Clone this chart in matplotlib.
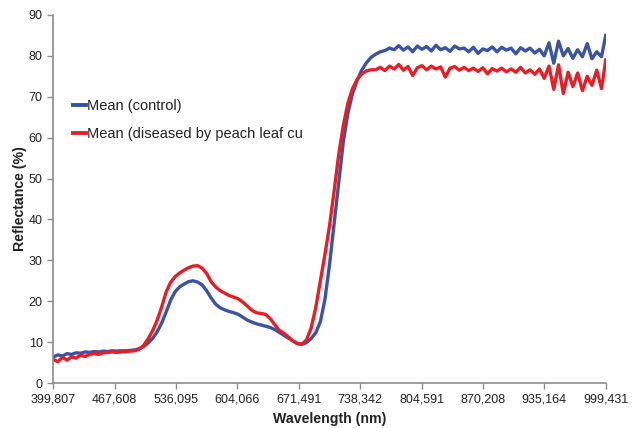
import numpy as np
import matplotlib
matplotlib.use("Agg")
import matplotlib.pyplot as plt

plt.rcParams['font.family'] = ['Liberation Sans', 'DejaVu Sans']

# x tick labels (category axis in original, evenly spaced)
tick_wavelengths = [399.807, 467.608, 536.095, 604.066, 671.491,
                    738.342, 804.591, 870.208, 935.164, 999.431]
tick_labels = ["399,807", "467,608", "536,095", "604,066", "671,491",
               "738,342", "804,591", "870,208", "935,164", "999,431"]

wavelength = list(range(400, 1000, 5)) + [999.4]

control = [
    6.4, 6.9, 6.6, 7.2, 7.0, 7.4, 7.3, 7.6, 7.5, 7.7, 7.6, 7.8, 7.7, 7.9, 7.8, 7.9, 7.9, 8.0, 8.1, 8.4,
    8.9, 9.8, 10.9, 12.5, 14.6, 17.3, 20.2, 22.3, 23.5, 24.2, 24.8, 25.0, 24.7, 24.0, 22.6, 20.8, 19.3, 18.4, 17.9, 17.5,
    17.2, 16.8, 16.1, 15.4, 14.9, 14.5, 14.2, 13.9, 13.6, 13.1, 12.4, 11.7, 11.0, 10.3, 9.7, 9.5, 9.9, 10.9, 12.3, 15.0,
    20.5, 29.0, 39.0, 49.0, 59.0, 66.0, 70.8, 74.0, 76.5, 78.3, 79.6, 80.4, 81.0, 81.3, 81.9, 81.5, 82.5, 81.4, 82.2, 81.0,
    82.4, 81.6, 82.3, 81.2, 82.6, 81.5, 82.0, 81.1, 82.4, 81.7, 81.9, 81.0, 82.1, 80.6, 81.7, 81.3, 82.2, 81.0, 82.1, 81.4,
    81.9, 80.5, 82.0, 81.2, 81.9, 80.7, 81.6, 80.0, 83.2, 78.2, 83.6, 80.0, 81.8, 79.4, 81.5, 79.8, 83.0, 79.3, 81.0, 79.8,
    85.0]

diseased = [
    5.8, 5.2, 6.3, 5.6, 6.4, 6.1, 6.8, 6.5, 7.0, 7.2, 7.0, 7.4, 7.5, 7.6, 7.5, 7.6, 7.7, 7.8, 7.9, 8.3,
    9.2, 10.8, 12.8, 15.3, 18.5, 22.2, 24.6, 26.0, 26.9, 27.6, 28.2, 28.6, 28.7, 28.1, 26.8, 24.8, 23.5, 22.6, 22.0, 21.4,
    21.0, 20.6, 19.8, 18.8, 17.8, 17.2, 17.0, 16.8, 15.8, 14.3, 12.9, 12.2, 11.3, 10.3, 9.6, 9.5, 10.6, 13.5, 18.5, 25.0,
    31.5, 38.5, 47.0, 56.0, 63.0, 68.5, 72.0, 74.2, 75.6, 76.3, 76.6, 76.6, 77.2, 76.4, 77.5, 76.8, 77.9, 76.5, 77.4, 75.2,
    77.1, 77.6, 76.6, 77.5, 76.8, 77.3, 74.8, 77.0, 77.4, 76.5, 77.2, 76.4, 77.0, 76.2, 77.1, 75.6, 76.9, 76.3, 77.0, 76.1,
    76.8, 76.0, 77.2, 75.8, 76.6, 75.5, 76.8, 74.5, 77.5, 71.8, 77.8, 70.8, 76.0, 72.5, 75.8, 71.5, 75.0, 72.8, 76.5, 72.0,
    79.0]

labels = ["Mean (control)", "Mean (diseased by peach leaf cu"]
colors = ["#3A53A4", "#ED1C24"]

tick_pos = np.arange(len(tick_wavelengths))
xpos = np.interp(wavelength, tick_wavelengths, tick_pos)

fig = plt.figure(figsize=(6.41, 4.28), dpi=100)
ax = fig.add_axes([0.083, 0.105, 0.862, 0.86])

ax.plot(xpos, control, color=colors[0], lw=2.4, label=labels[0])
ax.plot(xpos, diseased, color=colors[1], lw=2.4, label=labels[1])

ax.set_xlim(0, 9)
ax.set_ylim(0, 90)
ax.set_xticks(tick_pos)
ax.set_xticklabels(tick_labels)
ax.set_yticks(np.arange(0, 91, 10))

gray = "#8C8C8C"
for s in ["top", "right"]:
    ax.spines[s].set_visible(False)
for s in ["left", "bottom"]:
    ax.spines[s].set_color(gray)
    ax.spines[s].set_linewidth(1.2)
ax.tick_params(axis="both", direction="out", length=4, width=1.0, color=gray,
               labelsize=9, labelcolor="#222222")

ax.set_xlabel("Wavelength (nm)", fontsize=10.2, fontweight="bold", color="#222222", labelpad=5)
ax.set_ylabel("Reflectance (%)", fontsize=10.2, fontweight="bold", color="#222222", labelpad=1)

leg = ax.legend(loc="upper left", bbox_to_anchor=(0.036, 0.772), frameon=False,
                fontsize=10.5, handlelength=0.9, handletextpad=0.05,
                labelspacing=1.0, borderpad=0, borderaxespad=0)
for t in leg.get_texts():
    t.set_color("#222222")
for l in leg.get_lines():
    l.set_linewidth(2.8)

fig.savefig("out.png", dpi=100)
